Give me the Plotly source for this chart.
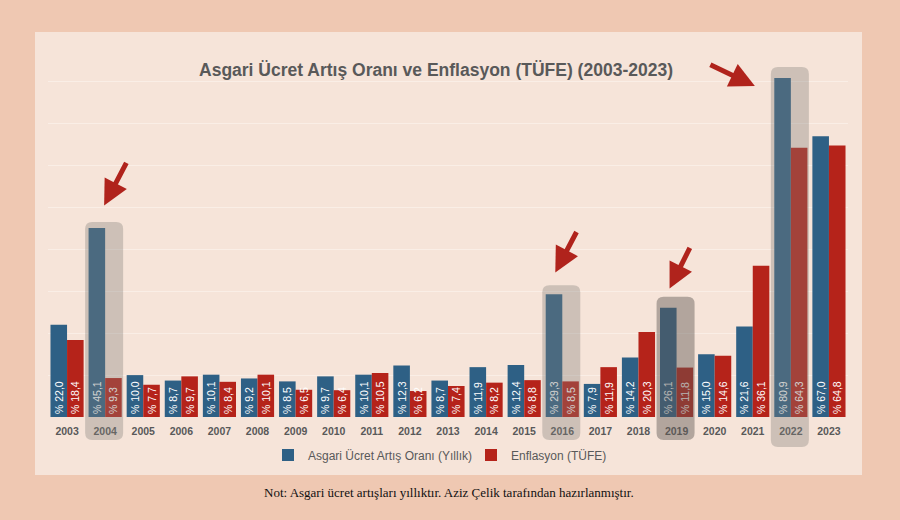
import plotly.graph_objects as go

years = list(range(2003, 2024))
asgari = [22.0, 45.1, 10.0, 8.7, 10.1, 9.2, 8.5, 9.7, 10.1, 12.3, 8.7, 11.9, 12.4, 29.3, 7.9, 14.2, 26.1, 15.0, 21.6, 80.9, 67.0]
tufe = [18.4, 9.3, 7.7, 9.7, 8.4, 10.1, 6.5, 6.4, 10.5, 6.2, 7.4, 8.2, 8.8, 8.5, 11.9, 20.3, 11.8, 14.6, 36.1, 64.3, 64.8]
tick_labels = [str(y) for y in years]
highlight_years = [2004, 2016, 2019, 2022]

TITLE = "Asgari Ücret Artış Oranı ve Enflasyon (TÜFE) (2003-2023)"
NOTE = "Not: Asgari ücret artışları yıllıktır. Aziz Çelik tarafından hazırlanmıştır."
NAMES = ["Asgari Ücret Artış Oranı (Yıllık)", "Enflasyon (TÜFE)"]

BLUE = "#2E6085"
RED = "#B5231A"
PANEL = "#F6E4D9"
OUTER = "#EFC8B2"
GREY = "#595959"

W, H = 900, 520
L, R, T, B = 48, 52, 40, 103
PW, PH = W - L - R, H - T - B
XMIN, XMAX = 2002.5, 2023.5
YMAX = 90


def fmt(v):
    return "% " + f"{v:.1f}".replace(".", ",")


fig = go.Figure()
for vals, name, col in [(asgari, NAMES[0], BLUE), (tufe, NAMES[1], RED)]:
    fig.add_trace(go.Bar(
        x=years, y=vals, name=name, marker=dict(color=col, line=dict(width=0)),
        text=[fmt(v) for v in vals], textposition="inside", insidetextanchor="start",
        textangle=-90, constraintext="none",
        textfont=dict(color="white", size=10.5, family="Liberation Sans"),
        hoverinfo="skip",
    ))


def px_x(px):
    return (px - L) / PW


def px_y(py):
    return (H - B - py) / PH


def year_to_px(yr):
    return L + (yr - XMIN) / (XMAX - XMIN) * PW


def val_to_py(v):
    return H - B - v / YMAX * PH


def rrect(x0, y0, x1, y1, r=7):
    # pixel coordinates -> paper path with rounded corners
    rx, ry = r / PW, r / PH
    X0, X1 = px_x(x0), px_x(x1)
    Yt, Yb = px_y(y0), px_y(y1)
    return (f"M{X0+rx},{Yt} L{X1-rx},{Yt} Q{X1},{Yt} {X1},{Yt-ry} "
            f"L{X1},{Yb+ry} Q{X1},{Yb} {X1-rx},{Yb} L{X0+rx},{Yb} "
            f"Q{X0},{Yb} {X0},{Yb+ry} L{X0},{Yt-ry} Q{X0},{Yt} {X0+rx},{Yt} Z")


shapes = [dict(type="rect", xref="paper", yref="paper", layer="below",
               x0=px_x(35), x1=px_x(862), y0=px_y(475), y1=px_y(32),
               fillcolor=PANEL, line=dict(width=0))]

box_pad = {2004: 6, 2016: 9, 2019: 11, 2022: 11}
box_bottom = {2004: 440, 2016: 440, 2019: 440, 2022: 447}
box_fill = {2004: "rgba(130,125,120,0.35)", 2016: "rgba(130,125,120,0.35)",
            2019: "rgba(95,88,84,0.45)", 2022: "rgba(130,125,120,0.35)"}
for yr in highlight_years:
    i = years.index(yr)
    top = val_to_py(max(asgari[i], tufe[i])) - box_pad[yr]
    cx = year_to_px(yr)
    shapes.append(dict(type="path", xref="paper", yref="paper", layer="above",
                       path=rrect(cx - 20, top, cx + 18, box_bottom[yr]),
                       fillcolor=box_fill[yr], line=dict(width=0)))

annotations = [
    dict(text=NOTE, xref="paper", yref="paper", x=px_x(449), y=px_y(492),
         showarrow=False, font=dict(family="Liberation Serif", size=13, color="#111111"),
         xanchor="center", yanchor="middle"),
]

# arrows: tip position (year offset in px, value), tail offset in px
arrows = [(2004, -1, 50.5, 23, -44), (2016, -7, 34.5, 22, -42),
          (2019, -7, 30.7, 21, -42), (2022, -36, 79.0, -46, -22)]
for yr, dxp, v, ax, ay in arrows:
    annotations.append(dict(
        x=yr + dxp / PW * (XMAX - XMIN), y=v, xref="x", yref="y",
        ax=ax, ay=ay, axref="pixel", ayref="pixel", text="", showarrow=True,
        arrowhead=2, arrowsize=1.0, arrowwidth=5, arrowcolor="#B0231C", standoff=0))

fig.update_layout(
    width=W, height=H,
    margin=dict(l=L, r=R, t=T, b=B, pad=0),
    paper_bgcolor=OUTER, plot_bgcolor=PANEL,
    barmode="group", bargap=0.13, bargroupgap=0,
    title=dict(text=TITLE, x=px_x(436), xref="paper", xanchor="center",
               y=1 - 70 / H, yref="container", yanchor="middle",
               font=dict(family="Liberation Sans", size=17.5, color=GREY, weight="bold")),
    xaxis=dict(range=[XMIN, XMAX], tickmode="array", tickvals=years, ticktext=tick_labels,
               showgrid=False, zeroline=False, showline=False, ticks="",
               ticklabelstandoff=6,
               tickfont=dict(family="Liberation Sans", size=10.5, color=GREY, weight="bold"),
               fixedrange=True),
    yaxis=dict(range=[0, YMAX], dtick=10, showgrid=True, gridcolor="#FAEEE6", gridwidth=1,
               zeroline=False, showticklabels=False, showline=False, ticks="", fixedrange=True),
    legend=dict(orientation="h", x=px_x(268), xanchor="left", y=px_y(455), yanchor="middle",
                font=dict(family="Liberation Sans", size=12, color=GREY),
                itemwidth=30, entrywidth=158, entrywidthmode="pixels",
                bgcolor="rgba(0,0,0,0)", traceorder="normal"),
    shapes=shapes, annotations=annotations,
    showlegend=True,
)

fig.write_html("out.html", config={"displayModeBar": False},
               post_script="document.body.style.margin='0';document.body.style.background='" + OUTER + "';")
